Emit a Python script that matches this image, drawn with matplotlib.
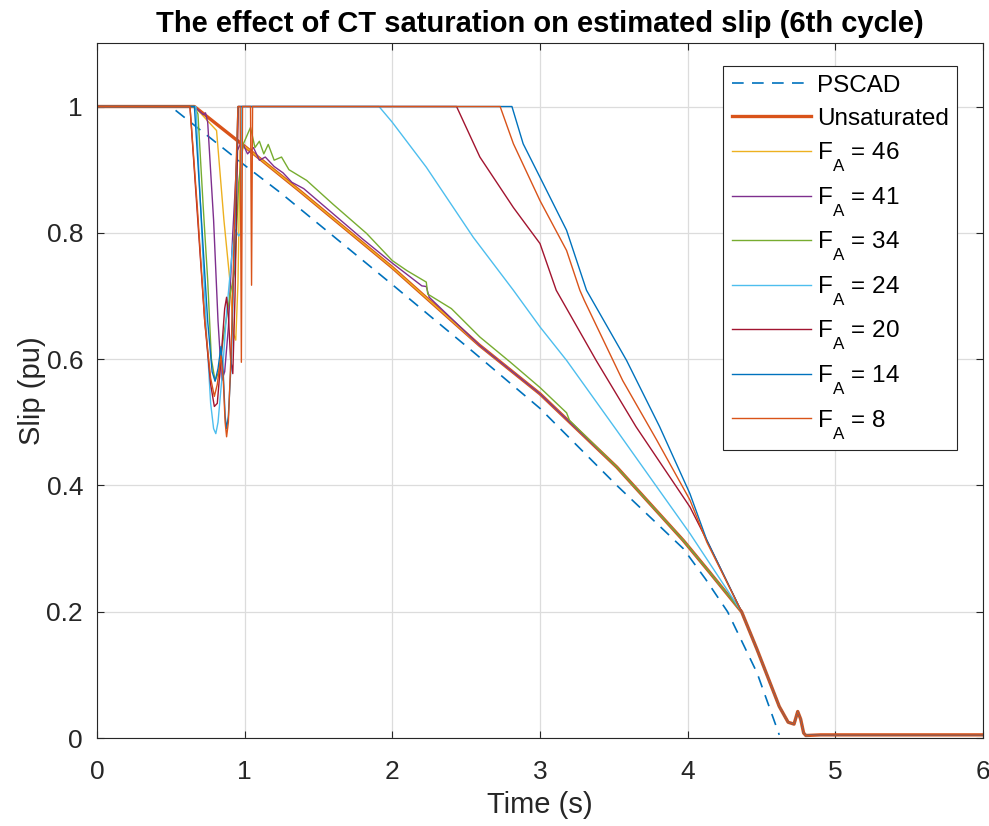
import numpy as np
import matplotlib
matplotlib.use('Agg')
import matplotlib.pyplot as plt
import matplotlib._mathtext as mathtext_internal

plt.rcParams['font.family'] = ['Liberation Sans', 'DejaVu Sans']
plt.rcParams['mathtext.fontset'] = 'custom'
plt.rcParams['mathtext.rm'] = 'Liberation Sans'
# MATLAB puts the subscript lower than mathtext does
mathtext_internal.FontConstantsBase.sub1 = 0.9

# reference (dashed) and unsaturated estimate
pscad_t = [0, 0.50, 1.0, 1.24, 2.0, 2.55, 3.0, 3.52, 3.97, 4.12, 4.27, 4.47, 4.62]
pscad_s = [1, 1, 0.907, 0.864, 0.718, 0.611, 0.522, 0.40, 0.30, 0.252, 0.20, 0.103, 0.005]

unsat_t = [0, 0.66, 1.0, 1.37, 2.0, 2.59, 3.0, 3.52, 3.97, 4.15, 4.365, 4.47, 4.55, 4.62,
           4.68, 4.72, 4.745, 4.765, 4.785, 4.80, 4.90, 6.0]
unsat_s = [1, 1, 0.937, 0.867, 0.745, 0.622, 0.545, 0.429, 0.313, 0.262, 0.20, 0.14, 0.092, 0.05,
           0.025, 0.022, 0.042, 0.03, 0.008, 0.004, 0.005, 0.005]

# saturated cases, points read up to where they merge with the unsaturated curve
fa46_t = [0, 0.66, 0.81, 0.86, 0.90, 0.925, 0.94, 0.955, 0.97, 1.0]
fa46_s = [1, 1, 0.962, 0.82, 0.725, 0.64, 0.63, 0.72, 0.93, 0.937]

fa41_t = [0, 0.66, 0.72, 0.735, 0.75, 0.79, 0.82, 0.845, 0.865, 0.89, 0.92, 0.95, 0.98, 1.02,
          1.06, 1.10, 1.14, 1.20, 1.26, 1.32, 1.40, 1.50, 1.60, 1.80, 2.0, 2.20, 2.23, 2.25]
fa41_s = [1, 1, 0.987, 0.99, 0.975, 0.82, 0.66, 0.566, 0.58, 0.65, 0.80, 0.93, 0.945, 0.925,
          0.935, 0.915, 0.92, 0.905, 0.895, 0.88, 0.87, 0.85, 0.83, 0.79, 0.752, 0.716, 0.715, 0.698]

fa34_t = [0, 0.66, 0.684, 0.72, 0.75, 0.775, 0.80, 0.825, 0.86, 0.90, 0.934, 0.96, 0.99, 1.04,
          1.07, 1.10, 1.13, 1.16, 1.20, 1.25, 1.30, 1.42, 1.60, 1.826, 2.0, 2.10, 2.23, 2.24,
          2.40, 2.593, 2.80, 3.0, 3.18, 3.20]
fa34_s = [1, 1, 0.988, 0.84, 0.725, 0.60, 0.566, 0.58, 0.64, 0.70, 0.74, 0.88, 0.94, 0.967,
          0.935, 0.945, 0.925, 0.94, 0.915, 0.92, 0.90, 0.883, 0.845, 0.799, 0.756, 0.74, 0.722,
          0.703, 0.68, 0.635, 0.595, 0.555, 0.515, 0.503]

fa24_t = [0, 0.67, 0.70, 0.74, 0.77, 0.79, 0.805, 0.82, 0.85, 0.88, 0.92, 0.935, 0.96, 0.975,
          0.98, 1.91, 2.0, 2.23, 2.548, 2.82, 3.0, 3.18, 3.52, 3.79, 4.015, 4.365]
fa24_s = [1, 1, 0.85, 0.65, 0.53, 0.49, 0.482, 0.50, 0.58, 0.68, 0.78, 0.805, 0.795, 0.80,
          1.0, 1.0, 0.975, 0.904, 0.793, 0.709, 0.651, 0.598, 0.487, 0.398, 0.324, 0.20]

fa20_t = [0, 0.63, 0.68, 0.73, 0.77, 0.795, 0.815, 0.84, 0.865, 0.878, 0.89, 0.905, 0.92,
          0.935, 0.957, 2.435, 2.593, 2.82, 3.0, 3.11, 3.38, 3.65, 3.88, 4.015, 4.13, 4.365]
fa20_s = [1, 1, 0.83, 0.66, 0.56, 0.525, 0.53, 0.60, 0.68, 0.698, 0.67, 0.60, 0.577,
          0.70, 1.0, 1.0, 0.92, 0.84, 0.783, 0.709, 0.598, 0.493, 0.413, 0.366, 0.313, 0.20]

fa14_t = [0, 0.66, 0.70, 0.75, 0.78, 0.80, 0.82, 0.84, 0.855, 0.868, 0.878, 0.89, 0.91, 0.935,
          0.955, 2.81, 2.886, 3.0, 3.18, 3.315, 3.586, 3.81, 4.015, 4.13, 4.365]
fa14_s = [1, 1, 0.85, 0.66, 0.58, 0.565, 0.585, 0.62, 0.58, 0.51, 0.49, 0.51, 0.60, 0.82,
          1.0, 1.0, 0.941, 0.888, 0.804, 0.709, 0.598, 0.493, 0.387, 0.313, 0.20]

fa8_t = [0, 0.63, 0.68, 0.73, 0.77, 0.795, 0.815, 0.84, 0.855, 0.868, 0.878, 0.89, 0.91, 0.935,
         0.955, 0.97, 0.978, 0.986, 1.04, 1.047, 1.054, 2.73, 2.82, 3.0, 3.18, 3.27, 3.30, 3.56,
         3.79, 4.015, 4.13, 4.365]
fa8_s = [1, 1, 0.84, 0.66, 0.57, 0.541, 0.56, 0.605, 0.57, 0.50, 0.477, 0.50, 0.62, 0.85,
         1.0, 1.0, 0.595, 1.0, 1.0, 0.717, 1.0, 1.0, 0.941, 0.851, 0.772, 0.709, 0.693, 0.566,
         0.472, 0.377, 0.31, 0.20]

labels = [r'F$_\mathrm{A}$ = 46', r'F$_\mathrm{A}$ = 41', r'F$_\mathrm{A}$ = 34',
          r'F$_\mathrm{A}$ = 24', r'F$_\mathrm{A}$ = 20', r'F$_\mathrm{A}$ = 14', r'F$_\mathrm{A}$ = 8']
colors = ['#EDB120', '#7E2F8E', '#77AC30', '#4DBEEE', '#A2142F', '#0072BD', '#D95319']

ut = np.array(unsat_t)
us = np.array(unsat_s)


def follow_unsat(t, s):
    # after merging, the saturated curve lies on the unsaturated one
    t = np.array(t, dtype=float)
    s = np.array(s, dtype=float)
    mask = ut > t[-1]
    return np.concatenate([t, ut[mask]]), np.concatenate([s, us[mask]])


series = [(fa46_t, fa46_s), (fa41_t, fa41_s), (fa34_t, fa34_s), (fa24_t, fa24_s),
          (fa20_t, fa20_s), (fa14_t, fa14_s), (fa8_t, fa8_s)]

fig = plt.figure(figsize=(9.89, 8.26), dpi=100)
ax = fig.add_axes([0.098, 0.1065, 0.896, 0.841])

ax.plot(pscad_t, pscad_s, color='#0072BD', lw=1.2, dashes=(7, 5), label='PSCAD')
ax.plot(unsat_t, unsat_s, color='#D95319', lw=2.4, label='Unsaturated')
for (t, s), lab, c in zip(series, labels, colors):
    tt, ss = follow_unsat(t, s)
    ax.plot(tt, ss, color=c, lw=1.0, label=lab)

ax.set_xlim(0, 6)
ax.set_ylim(0, 1.1)
ax.set_xticks(range(0, 7))
ax.set_yticks([0, 0.2, 0.4, 0.6, 0.8, 1])
ax.set_yticklabels(['0', '0.2', '0.4', '0.6', '0.8', '1'])
ax.grid(True, color='#dcdcdc', lw=0.9)
ax.set_axisbelow(True)
ax.tick_params(direction='in', length=5, width=0.8, colors='#262626', labelsize=19,
               top=True, right=True)
ax.tick_params(axis='x', pad=16)
ax.tick_params(axis='y', pad=10)
for sp in ax.spines.values():
    sp.set_color('#262626')
    sp.set_linewidth(0.8)

ax.set_xlabel('Time (s)', fontsize=21, color='#262626', labelpad=5)
ax.set_ylabel('Slip (pu)', fontsize=21, color='#262626', labelpad=0)
ax.set_title('The effect of CT saturation on estimated slip (6th cycle)', fontsize=21,
             fontweight='bold', pad=8)

leg = ax.legend(loc='upper right', bbox_to_anchor=(0.9707, 0.967), borderaxespad=0,
                fontsize=17.5, handlelength=3.25, handletextpad=0.25, labelspacing=0.45,
                fancybox=False, framealpha=1, edgecolor='#262626', borderpad=0.35)
leg.get_frame().set_linewidth(0.8)

plt.savefig('out.png', dpi=100)
